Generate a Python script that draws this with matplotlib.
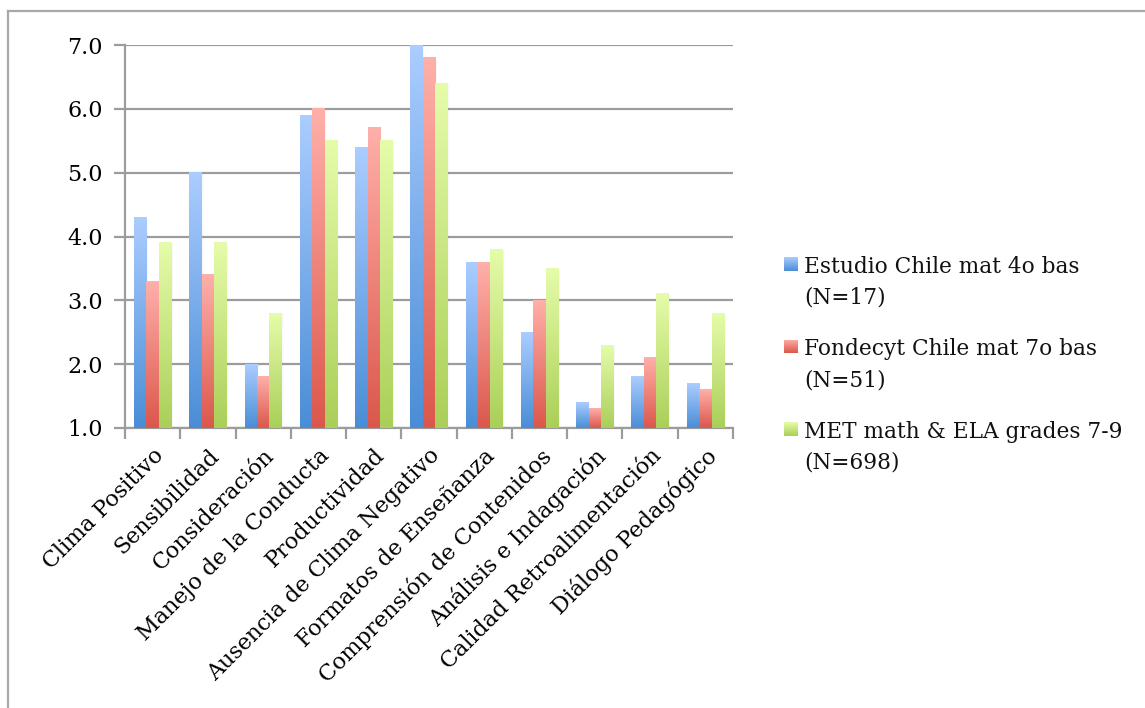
import numpy as np
import matplotlib
matplotlib.use("Agg")
import matplotlib.pyplot as plt
from matplotlib.colors import LinearSegmentedColormap
from matplotlib.lines import Line2D
from matplotlib.patches import Rectangle

categories = ["Clima Positivo", "Sensibilidad", "Consideración", "Manejo de la Conducta",
              "Productividad", "Ausencia de Clima Negativo", "Formatos de Enseñanza",
              "Comprensión de Contenidos", "Análisis e Indagación",
              "Calidad Retroalimentación", "Diálogo Pedagógico"]
estudio_chile = [4.3, 5.0, 2.0, 5.9, 5.4, 7.0, 3.6, 2.5, 1.4, 1.8, 1.7]
fondecyt_chile = [3.3, 3.4, 1.8, 6.0, 5.7, 6.8, 3.6, 3.0, 1.3, 2.1, 1.6]
met_study = [3.9, 3.9, 2.8, 5.5, 5.5, 6.4, 3.8, 3.5, 2.3, 3.1, 2.8]
series_labels = ["Estudio Chile mat 4o bas\n(N=17)",
                 "Fondecyt Chile mat 7o bas\n(N=51)",
                 "MET math & ELA grades 7-9\n(N=698)"]
y_ticks = [1.0, 2.0, 3.0, 4.0, 5.0, 6.0, 7.0]

# (bottom colour, top colour) for each series gradient
gradients = [("#4A8DD6", "#ABCDFF"), ("#DB574B", "#FFB0AA"), ("#AACF58", "#E6FCAA")]

plt.rcParams["font.family"] = ["DejaVu Serif"]
W, H = 1145, 708
fig = plt.figure(figsize=(W / 100, H / 100), dpi=100)
ax = fig.add_axes([125 / W, 1 - 428 / H, (733 - 125) / W, (428 - 45) / H])

grid_col = "#9C9C9C"
base = 1.0
n = len(categories)
bw = 0.225
offsets = [-bw, 0.0, bw]
x = np.arange(n)
grad = np.linspace(0, 1, 256).reshape(-1, 1)
cmaps = [LinearSegmentedColormap.from_list(f"g{s}", list(g)) for s, g in enumerate(gradients)]

for s, vals in enumerate([estudio_chile, fondecyt_chile, met_study]):
    for i, v in enumerate(vals):
        x0 = x[i] + offsets[s] - bw / 2
        # soft shadow to the right of each bar
        for k, a in enumerate([0.10, 0.06, 0.03]):
            ax.add_patch(Rectangle((x0 + bw + k * 0.012, base), 0.012, v - base - 0.02,
                                   facecolor="#888888", alpha=a, lw=0, zorder=2))
        ax.imshow(grad, cmap=cmaps[s], origin="lower", aspect="auto",
                  extent=[x0, x0 + bw, base, v], zorder=3, interpolation="bicubic")

ax.set_xlim(-0.5, n - 0.5)
ax.set_ylim(base, 7.0)

ax.set_yticks(y_ticks)
ax.set_yticklabels([f"{t:.1f}" for t in y_ticks], fontsize=16)
ax.yaxis.grid(True, color=grid_col, lw=1.6, zorder=1)
ax.set_axisbelow(True)

ax.set_xticks(np.arange(n + 1) - 0.5, minor=False)
ax.set_xticklabels([])
ax.set_xticks(x, minor=True)
ax.set_xticklabels(categories, minor=True, rotation=45, ha="right", va="top",
                   rotation_mode="anchor", fontsize=16)
ax.tick_params(axis="x", which="minor", length=0, pad=12)
ax.tick_params(axis="x", which="major", length=8, width=1.6, color=grid_col, direction="out")
ax.tick_params(axis="y", length=8, width=1.6, color=grid_col, direction="out", pad=8)

for side in ["top", "right"]:
    ax.spines[side].set_visible(False)
for side in ["left", "bottom"]:
    ax.spines[side].set_color(grid_col)
    ax.spines[side].set_linewidth(1.6)

# legend: gradient square beside a two-line label
for s, label in enumerate(series_labels):
    top = 257 + s * 82.5
    sq = fig.add_axes([784 / W, 1 - (top + 14) / H, 14 / W, 14 / H])
    sq.imshow(grad, cmap=cmaps[s], origin="lower", aspect="auto", extent=[0, 1, 0, 1])
    sq.set_axis_off()
    fig.text(804 / W, 1 - (top - 1) / H, label, ha="left", va="top", fontsize=15.6,
             linespacing=1.5, color="#111111")

# outer chart frame
fig.add_artist(Line2D([8 / W, 8 / W], [0, 1 - 11 / H], transform=fig.transFigure,
                      color="#A8A8A8", lw=1.6))
fig.add_artist(Line2D([8 / W, 1], [1 - 11 / H, 1 - 11 / H], transform=fig.transFigure,
                      color="#A8A8A8", lw=1.6))

fig.savefig("out.png", dpi=100)
